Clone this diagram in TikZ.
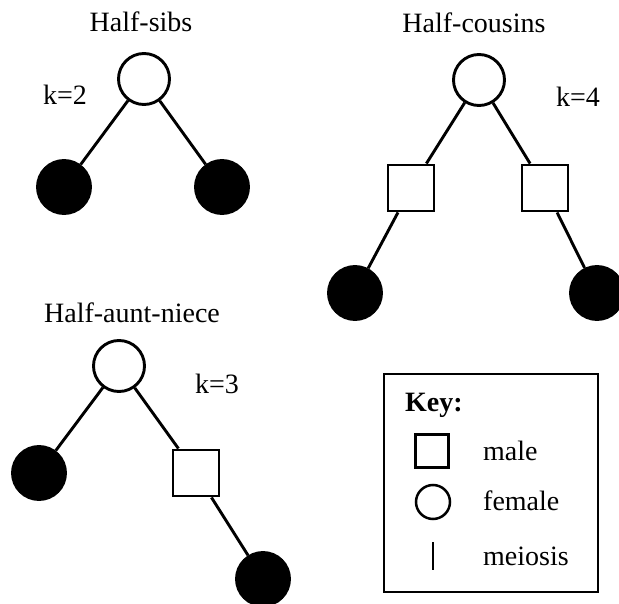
\documentclass[tikz,border=0pt]{standalone}
\usepackage{fontspec}
\setmainfont{Liberation Serif}
\begin{document}
\begin{tikzpicture}[x=1pt,y=-1pt,
  every node/.style={font=\fontsize{28}{33}\selectfont},
  rel/.style={line width=2.9pt},
  female/.style={circle,draw,line width=2.9pt,fill=white,minimum size=51pt,inner sep=0pt},
  affected/.style={circle,draw,line width=2.9pt,fill=black,minimum size=53pt,inner sep=0pt},
  male/.style={rectangle,draw,line width=2.9pt,fill=white,minimum size=46pt,inner sep=0pt},
  lbl/.style={inner sep=0pt,anchor=base west},
  title/.style={inner sep=0pt,anchor=base}]
\useasboundingbox (0,0) rectangle (619,604);

% Half-sibs
\node[title] (t1) at (141,32) {Half-sibs};
\node[lbl] (k1) at (43,105) {k=2};
\node[female] (s0) at (144,79) {};
\node[affected] (s1) at (64,187) {};
\node[affected] (s2) at (222,187) {};
\draw[rel] (s0) -- (s1);
\draw[rel] (s0) -- (s2);

% Half-cousins
\node[title] (t2) at (474,33) {Half-cousins};
\node[lbl] (k2) at (556,107) {k=4};
\node[female] (c0) at (479,80) {};
\node[male] (c1) at (411,188) {};
\node[male] (c2) at (545,188) {};
\node[affected] (c3) at (355,293) {};
\node[affected] (c4) at (597,293) {};
\draw[rel] (c0) -- (c1);
\draw[rel] (c0) -- (c2);
\draw[rel] (c1) -- (c3);
\draw[rel] (c2) -- (c4);

% Half-aunt-niece
\node[title] (t3) at (132,323) {Half-aunt-niece};
\node[lbl] (k3) at (195,393) {k=3};
\node[female] (a0) at (119,366) {};
\node[affected] (a1) at (39,473) {};
\node[male] (a2) at (196,473) {};
\node[affected] (a3) at (263,579) {};
\draw[rel] (a0) -- (a1);
\draw[rel] (a0) -- (a2);
\draw[rel] (a2) -- (a3);

% Key
\node[draw,line width=2.2pt,minimum width=214pt,minimum height=218pt,inner sep=0pt] (key) at (491,483) {};
\node[lbl,font=\fontsize{28}{33}\selectfont\bfseries] (keyt) at (405,411) {Key:};
\node[male,minimum size=33pt,line width=2.5pt] (km) at (432,451) {};
\node[lbl] (kml) at (483,460) {male};
\node[female,minimum size=34pt,line width=2.5pt] (kf) at (433,502) {};
\node[lbl] (kfl) at (483,510) {female};
\coordinate (mtop) at (433,542);
\coordinate (mbot) at (433,570);
\draw[line width=2.5pt] (mtop) -- (mbot);
\node[lbl] (kil) at (483,565) {meiosis};
\end{tikzpicture}
\end{document}
